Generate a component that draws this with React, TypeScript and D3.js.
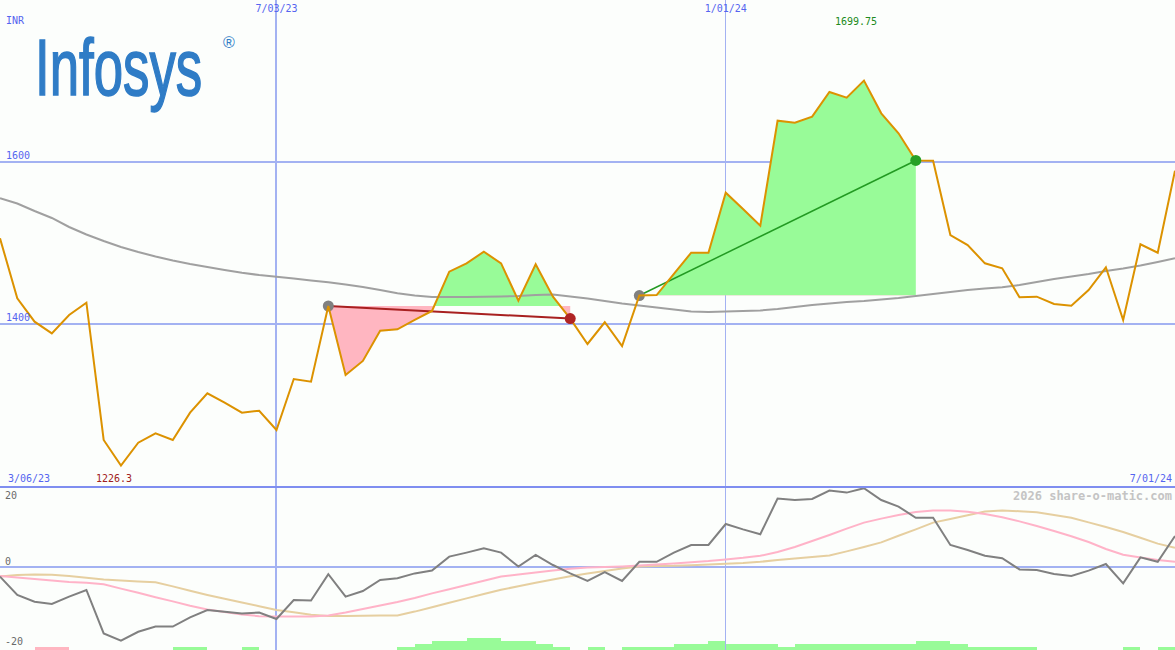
import React from 'react';
import * as d3 from 'd3';

const W = 1175;
const H = 650;

// weekly closing prices (INR)
const closePrices = [
  1505.8, 1432.0, 1403.2, 1388.9, 1411.4, 1426.6, 1257.7, 1226.3, 1254.4, 1265.9,
  1257.7, 1291.3, 1315.1, 1303.6, 1291.3, 1293.7, 1270.0, 1332.7, 1329.4, 1422.5,
  1337.6, 1354.9, 1392.1, 1393.8, 1405.3, 1416.4, 1464.7, 1475.0, 1489.3, 1475.0,
  1429.0, 1473.8, 1433.9, 1407.0, 1375.8, 1402.5, 1373.3, 1435.4, 1436.0, 1461.9,
  1488.1, 1488.1, 1561.9, 1541.8, 1521.3, 1650.4, 1648.0, 1655.4, 1685.7, 1678.7,
  1699.75, 1659.5, 1634.9, 1601.5, 1601.2, 1509.8, 1497.5, 1475.0, 1468.9, 1433.2,
  1434.0, 1425.0, 1422.9, 1442.2, 1470.1, 1405.3, 1498.4, 1488.1, 1588.9,
];

// long moving average (gray)
const trendAverage = [
  1555.0, 1548.6, 1539.4, 1530.8, 1519.7, 1510.5, 1502.5, 1495.1, 1488.9, 1483.4,
  1478.5, 1474.2, 1470.5, 1466.8, 1463.3, 1460.6, 1458.5, 1456.3, 1453.9, 1451.7,
  1449.0, 1445.9, 1442.2, 1438.1, 1435.4, 1433.6, 1433.6, 1433.6, 1433.8, 1434.2,
  1434.8, 1436.0, 1436.7, 1434.2, 1431.7, 1428.7, 1425.6, 1423.1, 1420.7, 1418.2,
  1415.7, 1415.1, 1415.7, 1416.4, 1417.0, 1418.8, 1421.3, 1423.7, 1425.6, 1427.4,
  1428.7, 1430.5, 1432.4, 1434.8, 1437.3, 1439.7, 1442.2, 1444.0, 1445.5, 1448.3,
  1452.0, 1455.7, 1458.8, 1461.9, 1465.6, 1468.6, 1472.3, 1476.6, 1481.2,
];

// lower panel oscillator (dark gray)
const momentum = [
  -2.4, -7.0, -8.7, -9.25, -7.4, -5.75, -16.6, -18.4, -16.2, -14.9,
  -14.9, -12.6, -10.75, -11.2, -11.6, -11.4, -13.0, -8.25, -8.4, -1.8,
  -7.4, -6.0, -3.25, -2.8, -1.6, -0.9, 2.6, 3.6, 4.7, 3.6,
  0.1, 3.0, 0.5, -1.6, -3.5, -1.3, -3.5, 1.3, 1.3, 3.6,
  5.5, 5.5, 10.75, 9.4, 8.2, 17.1, 16.75, 17.0, 19.1, 18.6,
  19.7, 16.75, 15.1, 12.3, 12.3, 5.5, 4.25, 2.8, 2.2, -0.6,
  -0.75, -1.75, -2.25, -0.9, 0.75, -4.1, 2.4, 1.3, 7.75,
];

// fast average of oscillator (pink)
const momentumFast = [
  -2.25, -2.65, -3.0, -3.4, -3.75, -3.95, -4.3, -5.4, -6.45, -7.55,
  -8.6, -9.7, -10.6, -11.25, -11.85, -12.3, -12.4, -12.4, -12.4, -12.1,
  -11.4, -10.5, -9.6, -8.75, -7.75, -6.6, -5.55, -4.5, -3.45, -2.4,
  -1.9, -1.4, -0.9, -0.45, -0.1, 0.0, 0.15, 0.35, 0.6, 0.9,
  1.2, 1.5, 1.9, 2.3, 2.8, 3.75, 5.0, 6.5, 8.0, 9.6,
  11.1, 12.1, 13.0, 13.75, 14.1, 14.1, 13.8, 13.25, 12.45, 11.4,
  10.25, 9.0, 7.7, 6.25, 4.5, 3.05, 2.35, 1.75, 1.3,
];

// slow average of oscillator (tan)
const momentumSlow = [
  -2.4, -2.0, -1.9, -1.95, -2.25, -2.7, -3.1, -3.35, -3.6, -3.8,
  -4.85, -5.95, -7.0, -7.95, -8.85, -9.8, -10.75, -11.3, -11.95, -12.25,
  -12.25, -12.2, -12.1, -12.1, -11.15, -10.05, -8.95, -7.85, -6.75, -5.7,
  -4.8, -3.95, -3.1, -2.3, -1.65, -1.0, -0.35, 0.1, 0.25, 0.3,
  0.45, 0.6, 0.8, 1.0, 1.3, 1.75, 2.1, 2.5, 2.9, 3.9,
  5.0, 6.15, 7.8, 9.4, 11.1, 12.0, 12.95, 13.9, 14.1, 13.95,
  13.7, 13.0, 12.3, 11.15, 10.0, 8.75, 7.3, 5.85, 4.8,
];

// signal histogram at the bottom (positive green, negative pink)
const histogramLevels = [
  0, 0, -1, -1, 0, 0, 0, 0, 0, 0,
  1, 1, 0, 0, 1, 0, 0, 0, 0, 0,
  0, 0, 0, 1, 2, 3, 3, 4, 4, 3,
  3, 2, 1, 0, 1, 0, 1, 1, 1, 2,
  2, 3, 2, 2, 2, 1, 2, 2, 2, 2,
  2, 2, 2, 3, 3, 2, 1, 1, 1, 1,
  0, 0, 0, 0, 0, 1, 0, 1, 0,
];

const dateTickLabels = ['7/03/23', '1/01/24'];
const dateTickIndex = [16, 42];
const priceTicks = [1400, 1600];
const oscTicks = [20, 0, -20];
const startLabel = '3/06/23';
const endLabel = '7/01/24';
const currencyLabel = 'INR';
const tradeEntries = [19, 37];
const tradeExits = [33, 53];
const tradeWins = [false, true];

const BLUE_TEXT = '#5565f0';
const GRID = '#a3b2f2';
const MONO = '"DejaVu Sans Mono", "Liberation Mono", monospace';

export default function App() {
  const n = closePrices.length;
  const x = d3.scaleLinear().domain([0, n - 1]).range([0, W]);
  const yP = d3.scaleLinear().domain([1400, 1600]).range([324.3, 161.7]);
  const yO = d3.scaleLinear().domain([-20, 20]).range([647, 487]);
  const yH = d3.scaleLinear().domain([0, 4]).range([650, 638]);
  const idx = d3.range(n);

  const priceLine = d3.line<number>().x((i) => x(i)).y((i) => yP(closePrices[i]))(idx) || '';
  const maLine = d3.line<number>().x((i) => x(i)).y((i) => yP(trendAverage[i]))(idx) || '';
  const oscLine = (arr: number[]) =>
    d3.line<number>().x((i) => x(i)).y((i) => yO(arr[i]))(idx) || '';

  const minI = d3.minIndex(closePrices);
  const maxI = d3.maxIndex(closePrices);
  const barW = x(1) - x(0);

  return (
    <svg
      width={W}
      height={H}
      style={{ position: 'absolute', left: 0, top: 0, background: '#fcfefc' }}
      xmlns="http://www.w3.org/2000/svg"
    >
      <defs>
        <clipPath id="upper">
          <rect x={0} y={0} width={W} height={486} />
        </clipPath>
        <clipPath id="lower">
          <rect x={0} y={488} width={W} height={H - 488} />
        </clipPath>
        {tradeEntries.map((e, k) => (
          <React.Fragment key={k}>
            <clipPath id={`above${k}`}>
              <rect x={0} y={0} width={W} height={yP(closePrices[e])} />
            </clipPath>
            <clipPath id={`below${k}`}>
              <rect x={0} y={yP(closePrices[e])} width={W} height={H} />
            </clipPath>
          </React.Fragment>
        ))}
      </defs>
      <rect x={0} y={0} width={W} height={H} fill="#fcfefc" />

      {/* histogram bars */}
      <g shapeRendering="crispEdges">
        {histogramLevels.map((v, i) =>
          v === 0 ? null : (
            <rect
              key={i}
              x={x(i)}
              y={yH(Math.abs(v))}
              width={barW}
              height={650 - yH(Math.abs(v))}
              fill={v > 0 ? '#98fb98' : '#ffb6c1'}
            />
          )
        )}
      </g>

      {/* grid */}
      <g shapeRendering="crispEdges">
        {priceTicks.map((p) => (
          <line key={p} x1={0} x2={W} y1={yP(p)} y2={yP(p)} stroke={GRID} strokeWidth={2} />
        ))}
        <line x1={0} x2={W} y1={yO(0)} y2={yO(0)} stroke={GRID} strokeWidth={2} />
        {dateTickIndex.map((d, k) => (
          <line key={k} x1={x(d)} x2={x(d)} y1={0} y2={H} stroke={GRID} strokeWidth={k === 0 ? 2 : 1} />
        ))}
        <line x1={0} x2={W} y1={487} y2={487} stroke="#7f8ef0" strokeWidth={2} />
      </g>

      {/* trade shading */}
      <g clipPath="url(#upper)">
        {tradeEntries.map((e, k) => {
          const r = d3.range(e, tradeExits[k] + 1);
          const base = yP(closePrices[e]);
          const a =
            d3
              .area<number>()
              .x((i) => x(i))
              .y0(base)
              .y1((i) => yP(closePrices[i]))(r) || '';
          return (
            <g key={k}>
              <path d={a} fill="#98fb98" clipPath={`url(#above${k})`} />
              <path d={a} fill="#ffb6c1" clipPath={`url(#below${k})`} />
            </g>
          );
        })}
      </g>

      {/* long average */}
      <path d={maLine} fill="none" stroke="#a0a0a0" strokeWidth={2} clipPath="url(#upper)" />

      {/* trade lines and markers */}
      {tradeEntries.map((e, k) => {
        const ex = tradeExits[k];
        const col = tradeWins[k] ? '#229a22' : '#a82020';
        return (
          <g key={k}>
            <line
              x1={x(e)}
              y1={yP(closePrices[e])}
              x2={x(ex)}
              y2={yP(closePrices[ex])}
              stroke={col}
              strokeWidth={tradeWins[k] ? 1.5 : 2}
            />
            <circle cx={x(e)} cy={yP(closePrices[e])} r={5.5} fill="#808080" />
          </g>
        );
      })}

      {/* price */}
      <path d={priceLine} fill="none" stroke="#dc9200" strokeWidth={2} clipPath="url(#upper)" />

      {tradeExits.map((ex, k) => (
        <circle
          key={k}
          cx={x(ex)}
          cy={yP(closePrices[ex])}
          r={5.5}
          fill={tradeWins[k] ? '#26a026' : '#b02424'}
        />
      ))}

      {/* lower panel lines */}
      <g clipPath="url(#lower)" fill="none" strokeWidth={2}>
        <path d={oscLine(momentumSlow)} stroke="#e6cfa0" />
        <path d={oscLine(momentumFast)} stroke="#ffb3c8" />
        <path d={oscLine(momentum)} stroke="#808080" />
      </g>

      {/* logo */}
      <g transform="translate(35,95) scale(0.66,1)">
        <text
          x={0}
          y={0}
          fontFamily='"Liberation Sans", Arial, sans-serif'
          fontSize={80}
          fill="#2f7cc6"
          stroke="#2f7cc6"
          strokeWidth={1.6}
        >
          Infosys
        </text>
      </g>
      <text
        x={229}
        y={48}
        textAnchor="middle"
        fontFamily='"Liberation Sans", Arial, sans-serif'
        fontSize={16}
        fill="#2f7cc6"
      >
        ®
      </text>

      {/* labels */}
      <g fontFamily={MONO} fontSize={10}>
        <text x={6} y={24} fill={BLUE_TEXT}>{currencyLabel}</text>
        {dateTickIndex.map((d, k) => (
          <text key={k} x={x(d)} y={12} textAnchor="middle" fill={BLUE_TEXT}>
            {dateTickLabels[k]}
          </text>
        ))}
        {priceTicks.map((p) => (
          <text key={p} x={6} y={yP(p) - 3} fill={BLUE_TEXT}>
            {p}
          </text>
        ))}
        <text x={8} y={482} fill={BLUE_TEXT}>{startLabel}</text>
        <text x={1172} y={482} textAnchor="end" fill={BLUE_TEXT}>{endLabel}</text>
        <text x={x(minI) - 7} y={482} textAnchor="middle" fill="#a02020">
          {String(closePrices[minI])}
        </text>
        <text x={x(maxI) - 8} y={25} textAnchor="middle" fill="#208a20">
          {String(closePrices[maxI])}
        </text>
        {oscTicks.map((t) => (
          <text
            key={t}
            x={5}
            y={Math.max(yO(t) - 2, 499)}
            fill="#6a6a6a"
          >
            {t}
          </text>
        ))}
      </g>
      <text
        x={1172}
        y={500}
        textAnchor="end"
        fontFamily={MONO}
        fontSize={12}
        fontWeight="bold"
        fill="#c4c4c4"
      >
        2026 share-o-matic.com
      </text>
    </svg>
  );
}
